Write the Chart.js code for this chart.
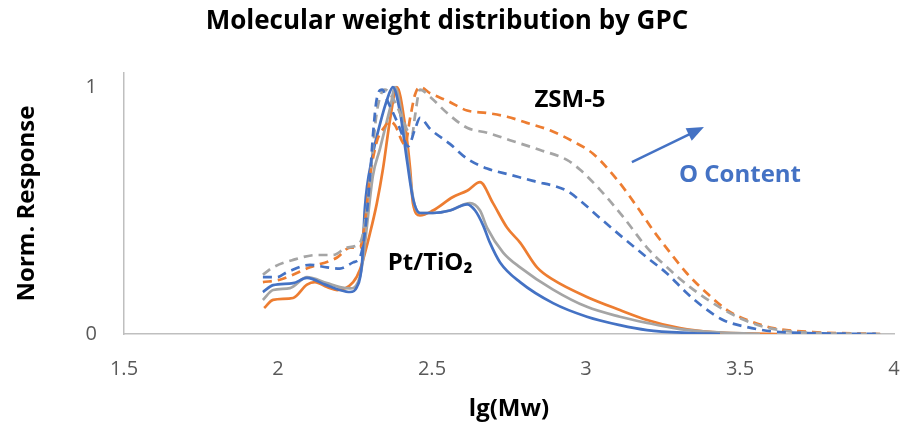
<!DOCTYPE html>
<html>
<head>
<meta charset="utf-8">
<script src="https://cdn.jsdelivr.net/npm/chart.js@4.4.1/dist/chart.umd.min.js"></script>
<style>
  html, body { margin: 0; padding: 0; background: #fff; }
  #wrap { width: 900px; height: 424px; }
</style>
</head>
<body>
<div id="wrap"><canvas id="gpc"></canvas></div>
<script>
// data: lg(Mw) and normalised response

// Pt/TiO2 (solid)
const ptBlueX = [1.951,1.984,2.049,2.094,2.153,2.201,2.234,2.256,2.273,2.282,2.305,2.331,2.357,2.373,2.396,2.419,2.438,2.461,2.503,2.558,2.614,2.640,2.666,2.688,2.721,2.786,2.893,3.003,3.110,3.198,3.338,3.435];
const ptBlueY = [0.17,0.198,0.206,0.227,0.20,0.178,0.17,0.19,0.29,0.51,0.71,0.85,0.96,1.0,0.9,0.7,0.55,0.49,0.49,0.50,0.525,0.50,0.44,0.37,0.29,0.21,0.125,0.07,0.036,0.016,0.004,0];

const ptGrayX = [1.951,1.984,2.039,2.094,2.159,2.201,2.234,2.260,2.276,2.289,2.308,2.331,2.364,2.380,2.403,2.422,2.442,2.461,2.503,2.558,2.623,2.656,2.679,2.731,2.786,2.893,3.003,3.110,3.198,3.305,3.412,3.565];
const ptGrayY = [0.138,0.178,0.186,0.23,0.206,0.19,0.185,0.21,0.30,0.44,0.64,0.75,0.915,1.0,0.88,0.70,0.53,0.49,0.49,0.50,0.53,0.50,0.43,0.33,0.27,0.18,0.11,0.07,0.045,0.02,0.008,0];

const ptOrangeX = [1.955,1.984,2.049,2.094,2.120,2.159,2.192,2.244,2.266,2.299,2.321,2.341,2.364,2.386,2.412,2.429,2.438,2.461,2.503,2.568,2.614,2.656,2.698,2.744,2.786,2.841,2.893,3.003,3.110,3.198,3.305,3.412,3.620];
const ptOrangeY = [0.105,0.138,0.146,0.20,0.21,0.19,0.178,0.21,0.26,0.41,0.53,0.67,0.87,1.0,0.85,0.67,0.53,0.48,0.50,0.555,0.58,0.615,0.53,0.43,0.37,0.27,0.22,0.15,0.097,0.057,0.024,0.008,0];

// ZSM-5 (dashed)
const zsmBlueX = [1.951,1.997,2.029,2.104,2.159,2.201,2.244,2.266,2.282,2.299,2.308,2.321,2.338,2.357,2.390,2.412,2.422,2.445,2.461,2.494,2.558,2.614,2.679,2.753,2.828,2.938,2.981,3.045,3.120,3.198,3.263,3.328,3.380,3.445,3.523,3.630,3.955];
const zsmBlueY = [0.23,0.23,0.25,0.28,0.27,0.265,0.29,0.31,0.41,0.64,0.80,0.955,0.99,0.94,0.85,0.78,0.76,0.83,0.875,0.83,0.77,0.71,0.67,0.645,0.62,0.58,0.54,0.47,0.39,0.31,0.245,0.165,0.11,0.057,0.028,0.008,0];

const zsmGrayX = [1.951,1.984,2.049,2.127,2.179,2.224,2.266,2.289,2.305,2.321,2.347,2.373,2.403,2.422,2.435,2.445,2.461,2.494,2.549,2.614,2.679,2.753,2.851,2.938,2.981,3.045,3.120,3.198,3.263,3.338,3.412,3.490,3.575,3.685,3.955];
const zsmGrayY = [0.24,0.27,0.30,0.32,0.32,0.35,0.37,0.51,0.71,0.90,0.99,0.955,0.875,0.82,0.805,0.885,0.99,0.96,0.895,0.835,0.815,0.785,0.745,0.705,0.665,0.585,0.475,0.35,0.27,0.19,0.125,0.07,0.03,0.008,0];

const zsmOrangeX = [1.951,2.006,2.104,2.192,2.234,2.266,2.282,2.299,2.321,2.341,2.364,2.380,2.403,2.412,2.429,2.445,2.461,2.494,2.549,2.614,2.679,2.744,2.808,2.883,2.958,3.023,3.101,3.166,3.218,3.273,3.328,3.393,3.458,3.523,3.607,3.737,3.955];
const zsmOrangeY = [0.21,0.22,0.27,0.31,0.35,0.35,0.45,0.64,0.78,0.83,0.86,0.845,0.78,0.765,0.875,0.97,1.0,0.975,0.945,0.905,0.895,0.88,0.855,0.825,0.78,0.73,0.625,0.515,0.42,0.33,0.245,0.165,0.097,0.057,0.024,0.008,0];

const xTicks = [1.5, 2, 2.5, 3, 3.5, 4];
const yTicks = [0, 1];

const BLUE = '#4472C4', ORANGE = '#ED7D31', GRAY = '#A5A5A5';
const FONT = "'Open Sans', 'Noto Sans', sans-serif";

function pts(xs, ys) {
  return xs.map((x, i) => ({ x: x, y: ys[i] }));
}

function line(label, xs, ys, color, dashed) {
  return {
    label: label,
    data: pts(xs, ys),
    borderColor: color,
    backgroundColor: color,
    borderWidth: dashed ? 2.7 : 2.7,
    borderDash: dashed ? [9, 6] : [],
    pointRadius: 0,
    fill: false,
    cubicInterpolationMode: 'monotone'
  };
}

// labels and the arrow, placed in data units
const notes = {
  id: 'notes',
  afterDatasetsDraw(chart) {
    const c = chart.ctx, xs = chart.scales.x, ys = chart.scales.y;
    c.save();
    c.textAlign = 'center';
    c.textBaseline = 'middle';
    c.font = 'bold 24px ' + FONT;
    c.fillStyle = '#000';
    c.fillText('ZSM-5', xs.getPixelForValue(2.948), ys.getPixelForValue(0.947));
    c.fillText('Pt/TiO\u2082', xs.getPixelForValue(2.494), ys.getPixelForValue(0.287));
    c.fillStyle = BLUE;
    c.fillText('O Content', xs.getPixelForValue(3.5), ys.getPixelForValue(0.644));

    // arrow
    const x1 = xs.getPixelForValue(3.149), y1 = ys.getPixelForValue(0.696);
    const x2 = xs.getPixelForValue(3.383), y2 = ys.getPixelForValue(0.838);
    const a = Math.atan2(y2 - y1, x2 - x1);
    const head = 17;
    c.strokeStyle = BLUE;
    c.lineWidth = 2.5;
    c.beginPath();
    c.moveTo(x1, y1);
    c.lineTo(x2 - head * 0.8 * Math.cos(a), y2 - head * 0.8 * Math.sin(a));
    c.stroke();
    c.beginPath();
    c.moveTo(x2, y2);
    c.lineTo(x2 - head * Math.cos(a) + 7 * Math.sin(a), y2 - head * Math.sin(a) - 7 * Math.cos(a));
    c.lineTo(x2 - head * Math.cos(a) - 7 * Math.sin(a), y2 - head * Math.sin(a) + 7 * Math.cos(a));
    c.closePath();
    c.fill();
    c.restore();
  }
};

new Chart(document.getElementById('gpc'), {
  type: 'line',
  data: {
    datasets: [
      line('ZSM-5 blue', zsmBlueX, zsmBlueY, BLUE, true),
      line('ZSM-5 gray', zsmGrayX, zsmGrayY, GRAY, true),
      line('ZSM-5 orange', zsmOrangeX, zsmOrangeY, ORANGE, true),
      line('Pt/TiO2 blue', ptBlueX, ptBlueY, BLUE, false),
      line('Pt/TiO2 gray', ptGrayX, ptGrayY, GRAY, false),
      line('Pt/TiO2 orange', ptOrangeX, ptOrangeY, ORANGE, false)
    ]
  },
  options: {
    responsive: true,
    maintainAspectRatio: false,
    animation: false,
    layout: { padding: { left: 0, right: 6, top: 0, bottom: 0 } },
    plugins: {
      legend: { display: false },
      tooltip: { enabled: false },
      title: {
        display: true,
        text: 'Molecular weight distribution by GPC',
        color: '#000',
        font: { family: FONT, size: 26, weight: 'bold', lineHeight: 1.2 },
        padding: { top: 6, bottom: 35.8 }
      }
    },
    scales: {
      x: {
        type: 'linear',
        min: 1.5,
        max: 4,
        afterBuildTicks: s => { s.ticks = xTicks.map(v => ({ value: v })); },
        afterFit: s => { s.height = 90; s.paddingRight = 0; s.paddingLeft = 0; },
        grid: { display: false, drawTicks: false },
        border: { color: '#BFBFBF', width: 1.5 },
        ticks: { color: '#595959', font: { family: FONT, size: 20 }, padding: 23, maxRotation: 0, callback: v => String(v) },
        title: { display: true, text: 'lg(Mw)', color: '#000', font: { family: FONT, size: 24, weight: 'bold' }, padding: { top: 4, bottom: 0 } }
      },
      y: {
        type: 'linear',
        min: 0,
        max: 1.057,
        afterBuildTicks: s => { s.ticks = yTicks.map(v => ({ value: v })); },
        afterFit: s => { s.width = 124; },
        grid: { display: false, drawTicks: false },
        border: { color: '#BFBFBF', width: 1.5 },
        ticks: { color: '#595959', font: { family: FONT, size: 20 }, padding: 27, callback: v => String(v) },
        title: { display: true, text: 'Norm. Response', color: '#000', font: { family: FONT, size: 24, weight: 'bold' }, padding: { top: 13 } }
      }
    }
  },
  plugins: [notes]
});
</script>
</body>
</html>
